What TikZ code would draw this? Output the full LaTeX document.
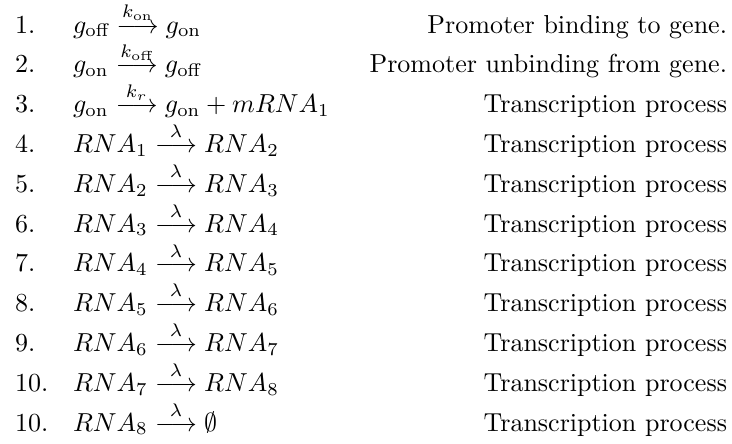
\documentclass[tikz,border=0pt]{standalone}
\usepackage{amsmath,amssymb}
\begin{document}
\begin{tikzpicture}[x=0.384615pt,y=-0.384615pt,
  every node/.style={inner sep=0pt,outer sep=0pt},
  num/.style={anchor=base west},
  rxn/.style={anchor=base west},
  desc/.style={anchor=base east}]
\useasboundingbox (0,0) rectangle (732,443);
\newcommand{\rarr}[1]{\stackrel{#1}{\longrightarrow}}
\def\dy{39.8}
\foreach \i/\n/\r/\d in {
 1/1./{g_{\text{off}} \rarr{k_{\text{on}}} g_{\text{on}}}/{Promoter binding to gene.},
 2/2./{g_{\text{on}} \rarr{k_{\text{off}}} g_{\text{off}}}/{Promoter unbinding from gene.},
 3/3./{g_{\text{on}} \rarr{k_r} g_{\text{on}} + mRNA_1}/{Transcription process},
 4/4./{RNA_1 \rarr{\lambda} RNA_2}/{Transcription process},
 5/5./{RNA_2 \rarr{\lambda} RNA_3}/{Transcription process},
 6/6./{RNA_3 \rarr{\lambda} RNA_4}/{Transcription process},
 7/7./{RNA_4 \rarr{\lambda} RNA_5}/{Transcription process},
 8/8./{RNA_5 \rarr{\lambda} RNA_6}/{Transcription process},
 9/9./{RNA_6 \rarr{\lambda} RNA_7}/{Transcription process},
 10/10./{RNA_7 \rarr{\lambda} RNA_8}/{Transcription process},
 11/10./{RNA_8 \rarr{\lambda} \emptyset}/{Transcription process}}
{
  \pgfmathsetmacro{\yy}{33+(\i-1)*\dy}
  \node[num] (n\i) at (15,\yy) {\n};
  \node[rxn] (r\i) at (73,\yy) {$\r$};
  \node[desc] (d\i) at (727,\yy) {\d};
}
\end{tikzpicture}
\end{document}
